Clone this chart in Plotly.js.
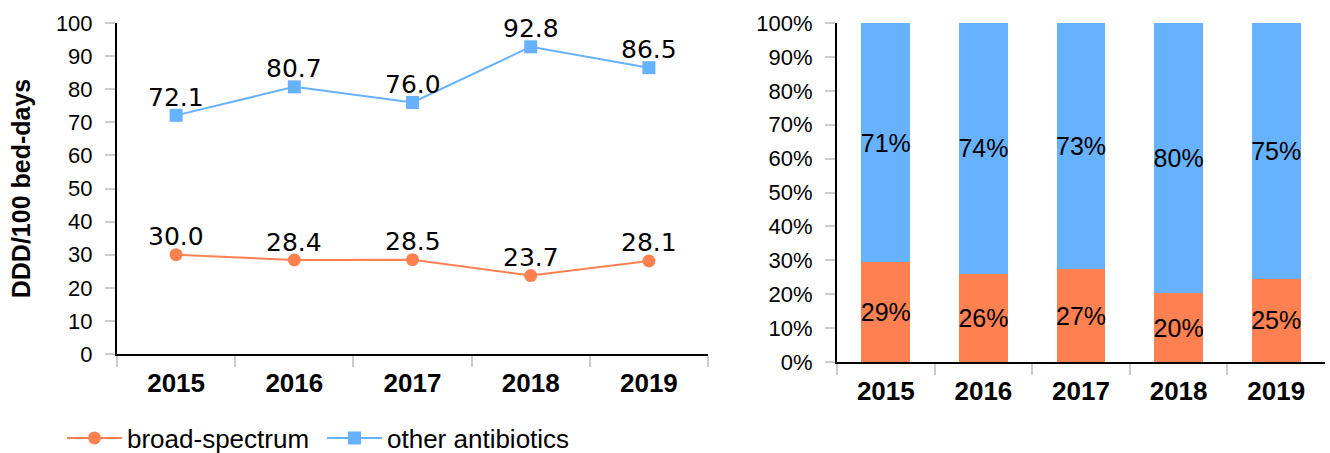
<!DOCTYPE html>
<html>
<head>
<meta charset="utf-8">
<script src="https://cdn.plot.ly/plotly-3.0.1.min.js"></script>
<style>html,body{margin:0;padding:0;background:#fff;}#chart{width:1330px;height:453px;}</style>
</head>
<body>
<div id="chart"></div>
<script>
// Data
const years = ['2015', '2016', '2017', '2018', '2019'];
const broadSpectrum = [30.0, 28.4, 28.5, 23.7, 28.1];
const otherAntibiotics = [72.1, 80.7, 76.0, 92.8, 86.5];
const broadShare = [29.4, 26.0, 27.3, 20.3, 24.5];
const otherShare = [70.6, 74.0, 72.7, 79.7, 75.5];
const broadShareLabels = ['29%', '26%', '27%', '20%', '25%'];
const otherShareLabels = ['71%', '74%', '73%', '80%', '75%'];

const ORANGE = '#ff8152';
const BLUE = '#66b2ff';
const W = 1330, H = 453;
const px = v => v / W;
const py = v => (H - v) / H;

const traces = [
  {
    type: 'scatter', mode: 'lines+markers', name: 'broad-spectrum',
    x: years, y: broadSpectrum, legend: 'legend',
    line: {color: ORANGE, width: 2},
    marker: {symbol: 'circle', size: 13, color: ORANGE},
    xaxis: 'x', yaxis: 'y', cliponaxis: false
  },
  {
    type: 'scatter', mode: 'lines+markers', name: 'other antibiotics',
    x: years, y: otherAntibiotics, legend: 'legend2',
    line: {color: BLUE, width: 2},
    marker: {symbol: 'square', size: 13, color: BLUE},
    xaxis: 'x', yaxis: 'y', cliponaxis: false
  },
  {
    type: 'bar', name: 'broad-spectrum share', showlegend: false,
    x: years, y: broadShare, text: broadShareLabels,
    textposition: 'inside', insidetextanchor: 'middle', constraintext: 'none', textangle: 0,
    textfont: {family: 'Liberation Sans, Arial', size: 25, color: '#000'},
    marker: {color: ORANGE}, hoverinfo: 'skip',
    xaxis: 'x2', yaxis: 'y2'
  },
  {
    type: 'bar', name: 'other share', showlegend: false,
    x: years, y: otherShare, text: otherShareLabels,
    textposition: 'inside', insidetextanchor: 'middle', constraintext: 'none', textangle: 0,
    textfont: {family: 'Liberation Sans, Arial', size: 25, color: '#000'},
    marker: {color: BLUE}, hoverinfo: 'skip',
    xaxis: 'x2', yaxis: 'y2'
  }
];

// value labels above the line points (x given as category index)
const annotations = [];
[broadSpectrum, otherAntibiotics].forEach(series => {
  series.forEach((v, i) => {
    annotations.push({
      xref: 'x', yref: 'y', x: i, y: v, text: v.toFixed(1),
      showarrow: false, xanchor: 'center', yanchor: 'middle', yshift: 18,
      font: {family: 'DejaVu Sans', size: 25, color: '#000'}
    });
  });
});

const xCommon = {
  type: 'category', range: [-0.5, 4.5], tickson: 'boundaries',
  ticks: 'outside', ticklen: 11, tickwidth: 2, tickcolor: '#cccccc',
  showline: true, linecolor: '#000', linewidth: 2,
  showgrid: false, zeroline: false, fixedrange: true,
  tickfont: {family: 'Liberation Sans, Arial', size: 26, color: '#000', weight: 'bold'},
  ticklabelstandoff: 5
};
const yCommon = {
  range: [0, 100], dtick: 10, tick0: 0,
  ticks: 'outside', ticklen: 10, tickwidth: 2, tickcolor: '#cccccc',
  showline: true, linecolor: '#000', linewidth: 2,
  showgrid: false, zeroline: false, fixedrange: true,
  tickfont: {family: 'Liberation Sans, Arial', size: 22, color: '#000'},
  ticklabelstandoff: 8
};
const legendCommon = {
  orientation: 'h', yanchor: 'middle', xanchor: 'left', y: py(438),
  font: {family: 'Liberation Sans, Arial', size: 26, color: '#000'},
  itemwidth: 55, bgcolor: 'rgba(0,0,0,0)'
};

const layout = {
  width: W, height: H,
  margin: {l: 0, r: 0, t: 0, b: 0, autoexpand: false},
  paper_bgcolor: '#fff', plot_bgcolor: '#fff',
  barmode: 'stack', bargap: 0.5,
  showlegend: true,
  annotations: annotations,
  legend: Object.assign({}, legendCommon, {x: px(62)}),
  legend2: Object.assign({}, legendCommon, {x: px(322)}),
  xaxis: Object.assign({}, xCommon, {domain: [px(117), px(708)], anchor: 'y'}),
  yaxis: Object.assign({}, yCommon, {
    domain: [py(354), py(23)], anchor: 'x',
    title: {text: 'DDD/100 bed-days', font: {family: 'Liberation Sans, Arial', size: 25, color: '#000', weight: 'bold'}, standoff: 18}
  }),
  xaxis2: Object.assign({}, xCommon, {domain: [px(837), px(1325)], anchor: 'y2'}),
  yaxis2: Object.assign({}, yCommon, {domain: [py(362), py(23)], anchor: 'x2', ticksuffix: '%'})
};

Plotly.newPlot('chart', traces, layout, {displayModeBar: false, staticPlot: true});
</script>
</body>
</html>
